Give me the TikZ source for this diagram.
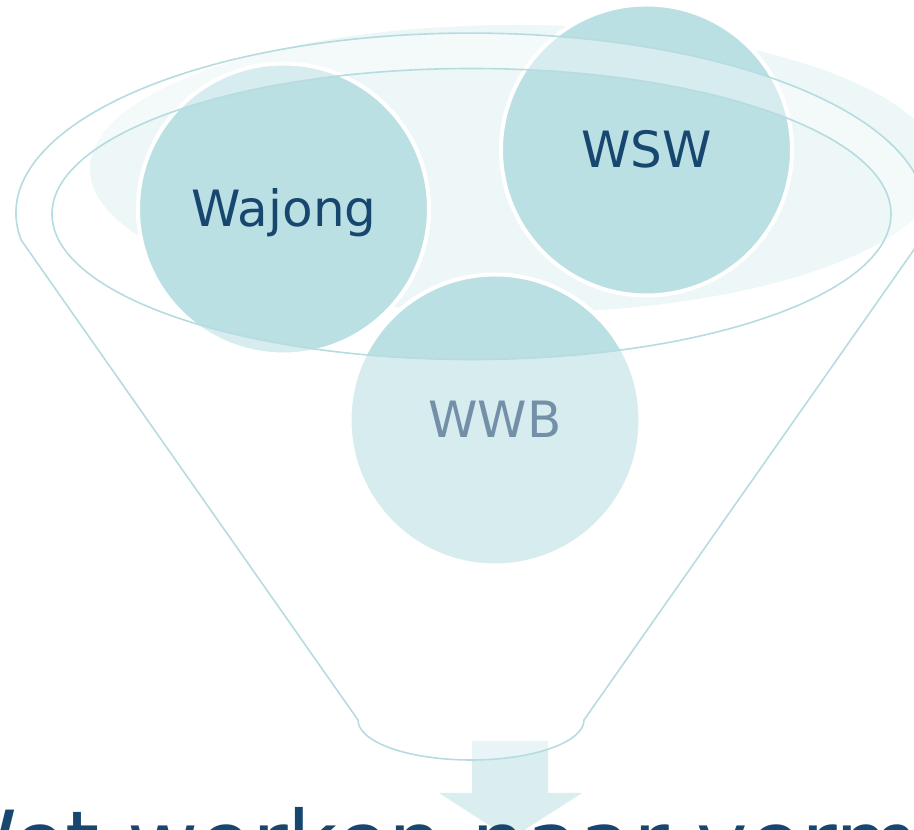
\documentclass[tikz,border=0pt]{standalone}
\usepackage{fontspec}
\setmainfont{DejaVu Sans}
\definecolor{shadowc}{HTML}{EEF7F7}
\definecolor{arrowc}{HTML}{DAEDEF}
\definecolor{circc}{HTML}{BBE0E3}
\definecolor{linec}{HTML}{B5DCE0}
\definecolor{textc}{HTML}{17466F}
\tikzset{
  bubble/.style={circle, fill=circc, draw=white, line width=4pt, minimum size=291pt, inner sep=0pt},
  bubbletext/.style={anchor=base, inner sep=0pt, text=textc, font=\fontsize{50}{60}\selectfont},
  funnelline/.style={draw=linec, line width=1.6pt},
  bigtext/.style={anchor=base west, inner sep=0pt, text=textc, font=\fontsize{87}{100}\selectfont}
}
\begin{document}
\begin{tikzpicture}[x=1pt,y=1pt]
\useasboundingbox (0,0) rectangle (914,830);
\clip (0,0) rectangle (914,830);
% shadow of the rim
\fill[shadowc] (515,661) ellipse [x radius=425, y radius=144];
% down arrow
\fill[arrowc] (472,89) -- (548,89) -- (548,37) -- (582,37) -- (510.5,-9) -- (439,37) -- (472,37) -- cycle;
% circles
\node[bubble] (wajong) at (283.5,621) {};
\node[bubble] (wsw) at (646.5,680) {};
\node[bubble] (wwb) at (495,410) {};
\node[bubbletext] (twajong) at (284,603) {Wajong};
\node[bubbletext] (twsw) at (646.5,662) {WSW};
\node[bubbletext] (twwb) at (495,392) {WWB};
% funnel body veil
\fill[white, fill opacity=0.4, even odd rule]
  (21.1,590) arc[start angle=188.6, end angle=-8.6, x radius=455, y radius=180]
  -- (584,110) arc[start angle=0, end angle=-180, x radius=113, y radius=40] -- cycle
  (471.5,616) ellipse [x radius=419.5, y radius=145.5];
% funnel outlines
\draw[funnelline]
  (21.1,590) arc[start angle=188.6, end angle=-8.6, x radius=455, y radius=180]
  -- (584,110) arc[start angle=0, end angle=-180, x radius=113, y radius=40] -- cycle;
\draw[funnelline] (471.5,616) ellipse [x radius=419.5, y radius=145.5];
% bottom title
\node[bigtext] (title) at (-69,-44) {Wet werken naar vermogen};
\end{tikzpicture}
\end{document}
